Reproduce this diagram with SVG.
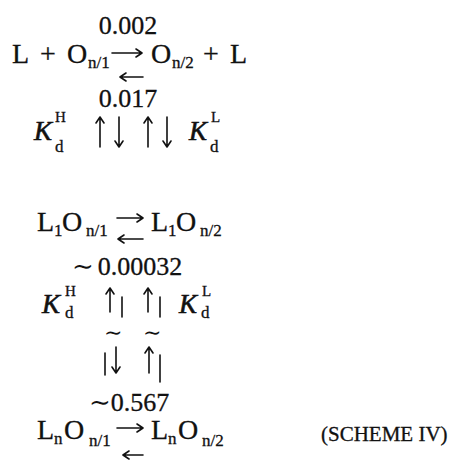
<svg xmlns="http://www.w3.org/2000/svg" width="451" height="460" viewBox="0 0 451 460">
<defs>
<style>
text{font-family:"Liberation Serif","Times New Roman",serif;font-size:28px;fill:#111;stroke:#111;stroke-width:0.3}
.n{font-size:26px}
.s{font-size:17px}
.sp{font-size:15px}
.k{font-size:27px;font-style:italic;stroke-width:0.6}
.m{font-family:"DejaVu Serif",serif;stroke-width:0}
.sc{font-size:21px}
.a{stroke:#111;stroke-width:1.6;fill:none;stroke-linecap:round;stroke-linejoin:round}
</style>
</defs>
<rect width="451" height="460" fill="#fff"/>
<g id="row-top">
<text class="n" x="128" y="34" text-anchor="middle">0.002</text>
<text x="12" y="63">L</text>
<text x="40" y="63">+</text>
<text x="67" y="63">O</text><text class="s" x="88" y="68">n/1</text>
<text x="151" y="63">O</text><text class="s" x="172" y="68">n/2</text>
<text x="203" y="63">+</text>
<text x="230" y="63">L</text>
<text class="n" x="128" y="107" text-anchor="middle">0.017</text>
</g>
<g id="kd-row-1">
<text class="k" x="34" y="140">K</text><text class="sp" x="55" y="122">H</text><text class="s" x="55" y="152">d</text>
<text class="k" x="189" y="140">K</text><text class="sp" x="211" y="122">L</text><text class="s" x="210" y="152">d</text>
</g>
<g id="row-L1">
<text x="37" y="231">L</text><text class="s" x="54" y="236">1</text>
<text x="62" y="231">O</text><text class="s" x="86" y="236">n/1</text>
<text x="151" y="231">L</text><text class="s" x="168" y="236">1</text>
<text x="176" y="231">O</text><text class="s" x="200" y="236">n/2</text>
<text class="n" x="72" y="275"><tspan class="m">∼</tspan><tspan dx="4">0.00032</tspan></text>
</g>
<g id="kd-row-2">
<text class="k" x="42" y="313">K</text><text class="sp" x="65" y="296">H</text><text class="s" x="65" y="318">d</text>
<text class="k" x="179" y="313">K</text><text class="sp" x="202" y="296">L</text><text class="s" x="201" y="318">d</text>
<text class="m" x="104" y="340" style="font-size:22px">∼</text>
<text class="m" x="143" y="340" style="font-size:22px">∼</text>
</g>
<g id="row-Ln">
<text class="n" x="89" y="411"><tspan class="m">∼</tspan>0.567</text>
<text x="37" y="439">L</text><text class="s" x="54" y="444">n</text>
<text x="64" y="439">O</text><text class="s" x="89" y="446">n/1</text>
<text x="151" y="439">L</text><text class="s" x="168" y="444">n</text>
<text x="178" y="439">O</text><text class="s" x="202" y="446">n/2</text>
<text class="sc" x="321" y="441">(SCHEME IV)</text>
</g>
<g id="connectors">
<path class="a" d="M112 53H142M136 49L142 53L136 57"/>
<path class="a" d="M143 77H120M126 73L120 77L126 81"/>
<path class="a" d="M100 147V117M96 123L100 117L104 123"/>
<path class="a" d="M119 117V147M115 141L119 147L123 141"/>
<path class="a" d="M148 147V117M144 123L148 117L152 123"/>
<path class="a" d="M167 117V147M163 141L167 147L171 141"/>
<path class="a" d="M117 218H143M137 214L143 218L137 222"/>
<path class="a" d="M143 239H118M124 235L118 239L124 243"/>
<path class="a" d="M110 312V288M106 294L110 288L114 294"/>
<path class="a" d="M122 297V317"/>
<path class="a" d="M148 312V288M144 294L148 288L152 294"/>
<path class="a" d="M160 297V317"/>
<path class="a" d="M105 353V375"/>
<path class="a" d="M116 347V373M112 367L116 373L120 367"/>
<path class="a" d="M149 373V347M145 353L149 347L153 353"/>
<path class="a" d="M160 355V382"/>
<path class="a" d="M117 428H143M137 424L143 428L137 432"/>
<path class="a" d="M143 455H123M129 451L123 455L129 459"/>
</g>
</svg>
